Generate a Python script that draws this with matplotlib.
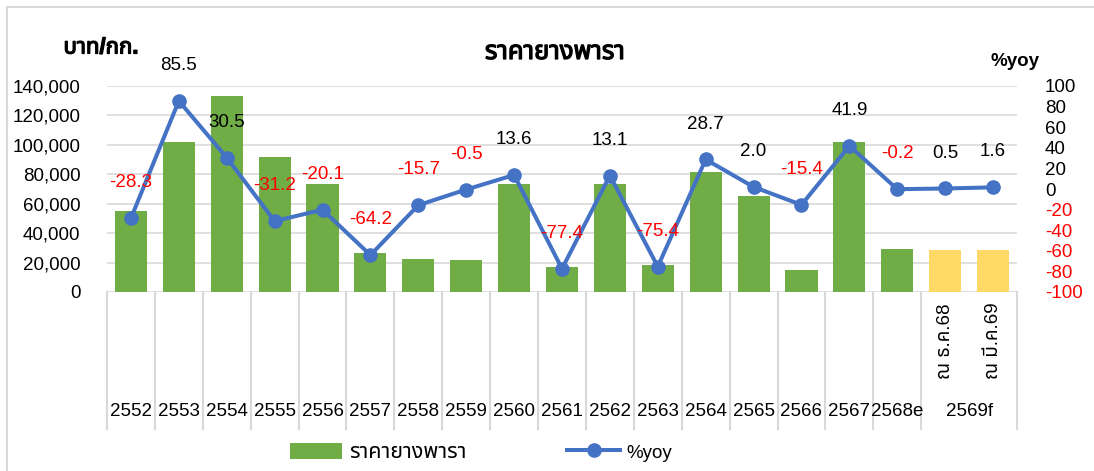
import matplotlib
matplotlib.use("Agg")
import matplotlib.pyplot as plt
from matplotlib import font_manager as fm
from matplotlib.lines import Line2D
from matplotlib.patches import Patch
import matplotlib.transforms as mtrans
import matplotlib.patheffects as pe

# ---------------- data ----------------
years = ["2552", "2553", "2554", "2555", "2556", "2557", "2558", "2559", "2560",
         "2561", "2562", "2563", "2564", "2565", "2566", "2567", "2568e"]
forecast_group = "2569f"
forecast_sub = ["ณ ธ.ค.68", "ณ มี.ค.69"]
prices = [55000, 102000, 133000, 91500, 73500, 26500, 22400, 21800, 73500,
          17000, 73500, 18200, 81500, 65200, 15000, 102000, 29200, 28600, 28600]
yoy = [-28.3, 85.5, 30.5, -31.2, -20.1, -64.2, -15.7, -0.5, 13.6,
       -77.4, 13.1, -75.4, 28.7, 2.0, -15.4, 41.9, -0.2, 0.5, 1.6]
left_ticks = [0, 20000, 40000, 60000, 80000, 100000, 120000, 140000]
right_ticks = [-100, -80, -60, -40, -20, 0, 20, 40, 60, 80, 100]
title = "ราคายางพารา"
left_unit = "บาท/กก."
right_unit = "%yoy"
legend_bar = "ราคายางพารา"
legend_line = "%yoy"

# ---------------- fonts ----------------
def find_thai_font():
    names = []
    for f in fm.fontManager.ttflist:
        if "thai" in f.name.lower():
            names.append(f.name)
    if names:
        names.sort(key=lambda n: (("looped" in n.lower()), len(n)))
        return names[0]
    try:
        from fontTools.ttLib import TTFont
        for f in fm.fontManager.ttflist:
            try:
                tt = TTFont(f.fname, fontNumber=0, lazy=True)
                cmap = tt.getBestCmap()
                if cmap and 0x0E23 in cmap and 0x0E32 in cmap:
                    return f.name
            except Exception:
                pass
    except Exception:
        pass
    return None

thai = find_thai_font()
fam = ["Liberation Sans"] + ([thai] if thai else []) + ["DejaVu Sans"]
plt.rcParams["font.family"] = fam

GREEN = "#70AD47"
YELLOW = "#FFD966"
BLUE = "#4472C4"
GRID = "#D9D9D9"
RED = "#FF0000"
FS = 13.5
BOLD = [pe.withStroke(linewidth=0.9, foreground="black")]

W, H = 1094, 471
fig = plt.figure(figsize=(W / 100, H / 100), dpi=100)
L, R, T, B = 107, 1017, 86, 292
ax = fig.add_axes([L / W, 1 - B / H, (R - L) / W, (B - T) / H])
ax2 = ax.twinx()

n = len(prices)
x = list(range(n))
colors = [GREEN] * len(years) + [YELLOW] * len(forecast_sub)
ax.bar(x, prices, width=0.67, color=colors, zorder=2)
ax.set_ylim(0, 140000)
ax.set_xlim(-0.5, n - 0.5)
ax.set_yticks(left_ticks)
ax.set_yticklabels([f"{v:,}" for v in left_ticks], fontsize=FS)
ax.tick_params(axis="y", length=0, pad=19)
ax.tick_params(axis="x", length=0, labelbottom=False)
ax.grid(axis="y", color=GRID, lw=1.2, zorder=0)
ax.set_axisbelow(True)
for s in ax.spines.values():
    s.set_visible(False)
for s in ax2.spines.values():
    s.set_visible(False)

ax2.plot(x, yoy, color=BLUE, lw=2.9, marker="o", ms=9.5, zorder=3)
ax2.set_ylim(-100, 100)
ax2.set_yticks(right_ticks)
ax2.set_yticklabels([str(v) for v in right_ticks], fontsize=FS)
for lab, v in zip(ax2.get_yticklabels(), right_ticks):
    lab.set_color(RED if v < 0 else "black")
ax2.tick_params(axis="y", length=0, pad=20)

for xi, v in zip(x, yoy):
    ax2.annotate(f"{v:.1f}", (xi, v), xytext=(0, 25.5), textcoords="offset points",
                 ha="center", va="center", fontsize=FS,
                 color=RED if v < 0 else "black", zorder=5)

# category axis (multi-level)
tr = mtrans.blended_transform_factory(ax.transData, ax.transAxes)
sep_bottom = (B - 429) / (B - T)
bounds = [i - 0.5 for i in range(len(years) + 1)] + [n - 0.5]
for bx in bounds:
    ax.plot([bx, bx], [0, sep_bottom], transform=tr, color=GRID, lw=1.5,
            clip_on=False, zorder=1)
year_y = (B - 411) / (B - T)
for i, yl in enumerate(years):
    ax.text(i, year_y, yl, transform=tr, ha="center", va="center", fontsize=FS)
fc = len(years) + (len(forecast_sub) - 1) / 2
ax.text(fc, year_y, forecast_group, transform=tr, ha="center", va="center", fontsize=FS)
sub_y = (B - 341) / (B - T)
for j, s in enumerate(forecast_sub):
    ax.text(len(years) + j, sub_y, s, transform=tr, ha="center", va="center",
            rotation=90, fontsize=FS)

# titles
fig.text(555 / W, 1 - 52 / H, title, ha="center", va="center", fontsize=18.5,
         fontweight="bold", path_effects=BOLD)
fig.text(101 / W, 1 - 48 / H, left_unit, ha="center", va="center", fontsize=16,
         fontweight="bold", path_effects=BOLD)
fig.text(1015 / W, 1 - 62 / H, right_unit, ha="center", va="center", fontsize=FS,
         fontweight="bold")

# legend
handles = [Patch(facecolor=GREEN, edgecolor="none"),
           Line2D([0], [0], color=BLUE, lw=2.9, marker="o", ms=9.5)]
leg = fig.legend(handles, [legend_bar, legend_line], loc="center",
                 bbox_to_anchor=(481 / W, 1 - 452 / H), ncol=2, frameon=False,
                 fontsize=FS, handlelength=2.8, handleheight=0.9,
                 columnspacing=5.4, handletextpad=0.35)
leg.get_texts()[0].set_fontsize(15.5)

# outer frame (left and top)
fig.add_artist(Line2D([7 / W, 7 / W], [0, 1 - 7 / H], color=GRID, lw=1.5, transform=fig.transFigure))
fig.add_artist(Line2D([7 / W, 1], [1 - 7 / H, 1 - 7 / H], color=GRID, lw=1.5, transform=fig.transFigure))

fig.savefig("out.png", dpi=100)
